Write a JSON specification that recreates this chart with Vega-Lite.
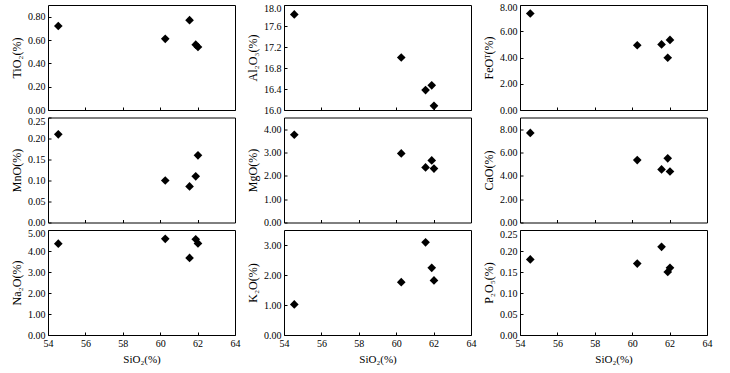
{
  "$schema": "https://vega.github.io/schema/vega-lite/v6.json",
  "background": "#ffffff",
  "padding": {"left": 10, "top": 1, "right": 5, "bottom": 5},
  "data": {"values": [
    {"SiO2": 54.55, "TiO2": 0.72, "Al2O3": 17.82, "FeOT": 7.35, "MnO": 0.21, "MgO": 3.76, "CaO": 7.68, "Na2O": 4.35, "K2O": 1.02, "P2O5": 0.18},
    {"SiO2": 60.27, "TiO2": 0.61, "Al2O3": 17.0, "FeOT": 4.93, "MnO": 0.1, "MgO": 2.96, "CaO": 5.35, "Na2O": 4.58, "K2O": 1.76, "P2O5": 0.17},
    {"SiO2": 61.57, "TiO2": 0.77, "Al2O3": 16.38, "FeOT": 5.0, "MnO": 0.086, "MgO": 2.36, "CaO": 4.55, "Na2O": 3.67, "K2O": 3.09, "P2O5": 0.21},
    {"SiO2": 61.9, "TiO2": 0.56, "Al2O3": 16.47, "FeOT": 3.98, "MnO": 0.11, "MgO": 2.66, "CaO": 5.5, "Na2O": 4.56, "K2O": 2.24, "P2O5": 0.15},
    {"SiO2": 62.02, "TiO2": 0.54, "Al2O3": 16.08, "FeOT": 5.34, "MnO": 0.16, "MgO": 2.31, "CaO": 4.37, "Na2O": 4.36, "K2O": 1.82, "P2O5": 0.16}
  ]},
  "columns": 3,
  "bounds": "flush",
  "spacing": {"row": 7.5, "column": 49},
  "concat": [
    {"width": 187, "height": 105, "mark": {"type": "point", "shape": "diamond", "filled": true, "color": "#000", "size": 75, "opacity": 1},
     "encoding": {
       "x": {"field": "SiO2", "type": "quantitative", "scale": {"domain": [54, 64], "nice": false, "zero": false}, "axis": {"labels": false, "title": null, "values": [54, 56, 58, 60, 62, 64]}},
       "y": {"field": "TiO2", "type": "quantitative", "scale": {"domain": [0, 0.9], "nice": false, "zero": false}, "axis": {"title": "TiO₂(%)", "values": [0, 0.2, 0.4, 0.6, 0.8], "format": ".2f"}}}},
    {"width": 187, "height": 105, "mark": {"type": "point", "shape": "diamond", "filled": true, "color": "#000", "size": 75, "opacity": 1},
     "encoding": {
       "x": {"field": "SiO2", "type": "quantitative", "scale": {"domain": [54, 64], "nice": false, "zero": false}, "axis": {"labels": false, "title": null, "values": [54, 56, 58, 60, 62, 64]}},
       "y": {"field": "Al2O3", "type": "quantitative", "scale": {"domain": [16, 18], "nice": false, "zero": false}, "axis": {"title": "Al₂O₃(%)", "values": [16, 16.4, 16.8, 17.2, 17.6, 18], "format": ".1f", "labelOffset": {"condition": {"test": "datum.value >= 17.99", "value": 3}, "value": 0}}}}},
    {"width": 187, "height": 105, "mark": {"type": "point", "shape": "diamond", "filled": true, "color": "#000", "size": 75, "opacity": 1},
     "encoding": {
       "x": {"field": "SiO2", "type": "quantitative", "scale": {"domain": [54, 64], "nice": false, "zero": false}, "axis": {"labels": false, "title": null, "values": [54, 56, 58, 60, 62, 64]}},
       "y": {"field": "FeOT", "type": "quantitative", "scale": {"domain": [0, 8], "nice": false, "zero": false}, "axis": {"title": "FeOᵀ(%)", "values": [0, 2, 4, 6, 8], "format": ".2f", "labelOffset": {"condition": {"test": "datum.value >= 7.99", "value": 2}, "value": 0}}}}},
    {"width": 187, "height": 105, "mark": {"type": "point", "shape": "diamond", "filled": true, "color": "#000", "size": 75, "opacity": 1},
     "encoding": {
       "x": {"field": "SiO2", "type": "quantitative", "scale": {"domain": [54, 64], "nice": false, "zero": false}, "axis": {"labels": false, "title": null, "values": [54, 56, 58, 60, 62, 64]}},
       "y": {"field": "MnO", "type": "quantitative", "scale": {"domain": [0, 0.25], "nice": false, "zero": false}, "axis": {"title": "MnO(%)", "values": [0, 0.05, 0.1, 0.15, 0.2, 0.25], "format": ".2f", "labelOffset": {"condition": {"test": "datum.value >= 0.249", "value": 4}, "value": 0}}}}},
    {"width": 187, "height": 105, "mark": {"type": "point", "shape": "diamond", "filled": true, "color": "#000", "size": 75, "opacity": 1},
     "encoding": {
       "x": {"field": "SiO2", "type": "quantitative", "scale": {"domain": [54, 64], "nice": false, "zero": false}, "axis": {"labels": false, "title": null, "values": [54, 56, 58, 60, 62, 64]}},
       "y": {"field": "MgO", "type": "quantitative", "scale": {"domain": [0, 4.5], "nice": false, "zero": false}, "axis": {"title": "MgO(%)", "values": [0, 1, 2, 3, 4], "format": ".2f"}}}},
    {"width": 187, "height": 105, "mark": {"type": "point", "shape": "diamond", "filled": true, "color": "#000", "size": 75, "opacity": 1},
     "encoding": {
       "x": {"field": "SiO2", "type": "quantitative", "scale": {"domain": [54, 64], "nice": false, "zero": false}, "axis": {"labels": false, "title": null, "values": [54, 56, 58, 60, 62, 64]}},
       "y": {"field": "CaO", "type": "quantitative", "scale": {"domain": [0, 9], "nice": false, "zero": false}, "axis": {"title": "CaO(%)", "values": [0, 2, 4, 6, 8], "format": ".2f"}}}},
    {"width": 187, "height": 105, "mark": {"type": "point", "shape": "diamond", "filled": true, "color": "#000", "size": 75, "opacity": 1},
     "encoding": {
       "x": {"field": "SiO2", "type": "quantitative", "scale": {"domain": [54, 64], "nice": false, "zero": false}, "axis": {"title": "SiO₂(%)", "values": [54, 56, 58, 60, 62, 64], "format": "d"}},
       "y": {"field": "Na2O", "type": "quantitative", "scale": {"domain": [0, 5], "nice": false, "zero": false}, "axis": {"title": "Na₂O(%)", "values": [0, 1, 2, 3, 4, 5], "format": ".2f", "labelOffset": {"condition": {"test": "datum.value >= 4.99", "value": 3}, "value": 0}}}}},
    {"width": 187, "height": 105, "mark": {"type": "point", "shape": "diamond", "filled": true, "color": "#000", "size": 75, "opacity": 1},
     "encoding": {
       "x": {"field": "SiO2", "type": "quantitative", "scale": {"domain": [54, 64], "nice": false, "zero": false}, "axis": {"title": "SiO₂(%)", "values": [54, 56, 58, 60, 62, 64], "format": "d"}},
       "y": {"field": "K2O", "type": "quantitative", "scale": {"domain": [0, 3.5], "nice": false, "zero": false}, "axis": {"title": "K₂O(%)", "values": [0, 1, 2, 3], "format": ".2f"}}}},
    {"width": 187, "height": 105, "mark": {"type": "point", "shape": "diamond", "filled": true, "color": "#000", "size": 75, "opacity": 1},
     "encoding": {
       "x": {"field": "SiO2", "type": "quantitative", "scale": {"domain": [54, 64], "nice": false, "zero": false}, "axis": {"title": "SiO₂(%)", "values": [54, 56, 58, 60, 62, 64], "format": "d"}},
       "y": {"field": "P2O5", "type": "quantitative", "scale": {"domain": [0, 0.25], "nice": false, "zero": false}, "axis": {"title": "P₂O₅(%)", "values": [0, 0.05, 0.1, 0.15, 0.2, 0.25], "format": ".2f", "labelOffset": {"condition": {"test": "datum.value >= 0.249", "value": 4}, "value": 0}}}}}
  ],
  "resolve": {"scale": {"x": "independent", "y": "independent"}},
  "config": {
    "font": "Liberation Serif",
    "view": {"stroke": "#000", "strokeWidth": 1},
    "axis": {
      "domain": false,
      "grid": false,
      "tickColor": "#000",
      "tickSize": -3,
      "labelPadding": 6,
      "labelFont": "Liberation Serif",
      "labelFontSize": 10,
      "labelColor": "#000",
      "labelFlush": false,
      "labelOverlap": false,
      "titleFont": "Liberation Serif",
      "titleFontSize": 11,
      "titleFontWeight": "normal",
      "titleColor": "#000",
      "titlePadding": 5
    },
    "axisY": {"titleFontSize": 12, "titlePadding": 4}
  }
}
